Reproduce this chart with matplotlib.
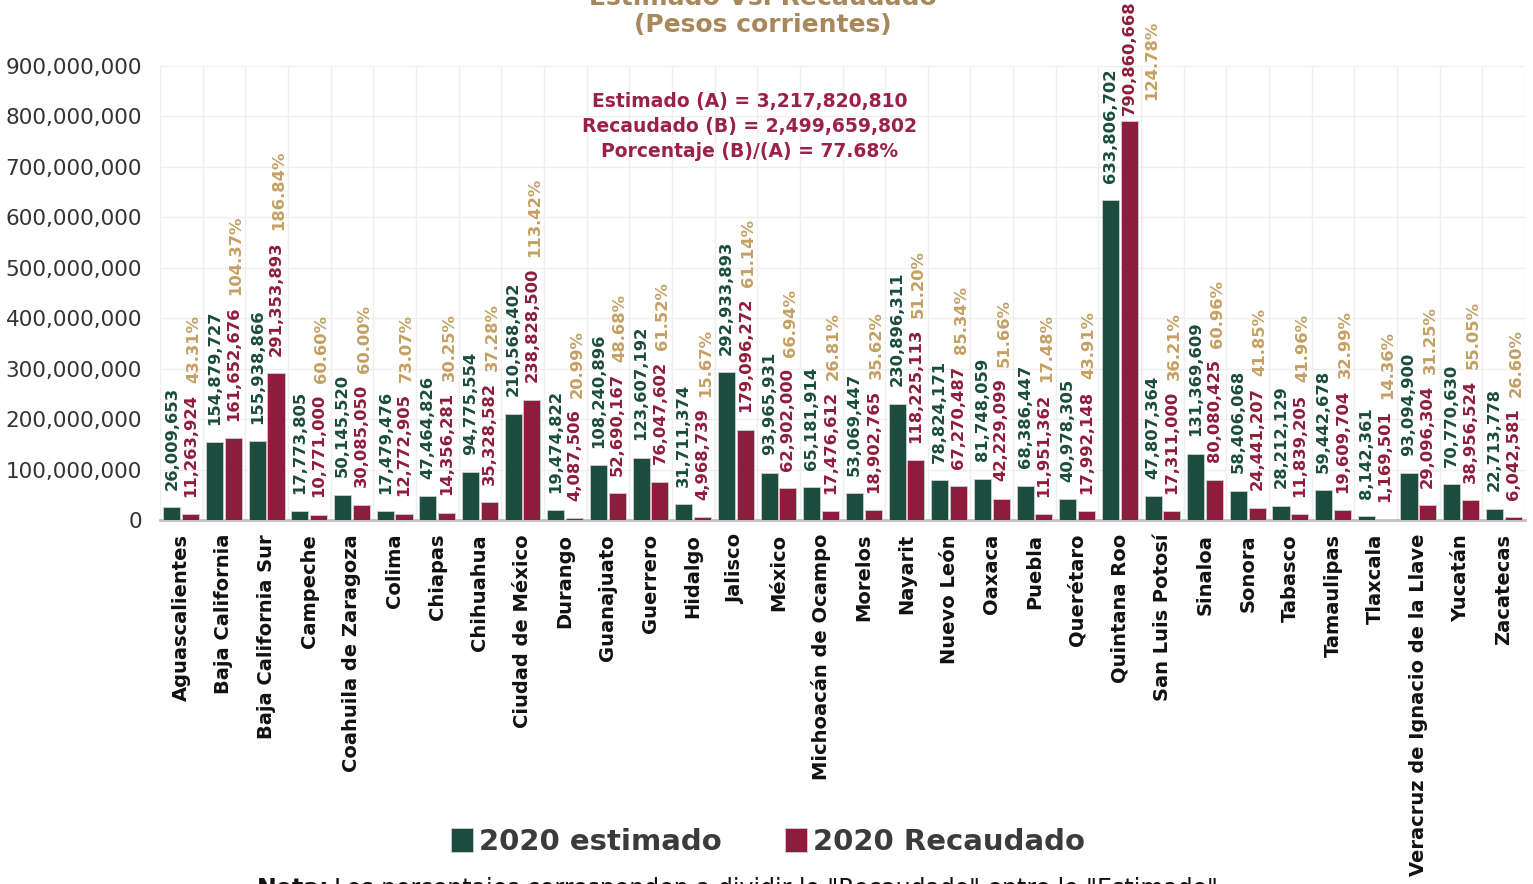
import numpy as np
import matplotlib
matplotlib.use("Agg")
import matplotlib.pyplot as plt
from matplotlib.ticker import FuncFormatter, FixedLocator

# Data
estados = ["Aguascalientes", "Baja California", "Baja California Sur", "Campeche",
           "Coahuila de Zaragoza", "Colima", "Chiapas", "Chihuahua", "Ciudad de México",
           "Durango", "Guanajuato", "Guerrero", "Hidalgo", "Jalisco", "México",
           "Michoacán de Ocampo", "Morelos", "Nayarit", "Nuevo León", "Oaxaca", "Puebla",
           "Querétaro", "Quintana Roo", "San Luis Potosí", "Sinaloa", "Sonora", "Tabasco",
           "Tamaulipas", "Tlaxcala", "Veracruz de Ignacio de la Llave", "Yucatán", "Zacatecas"]
estimado = [26009653, 154879727, 155938866, 17773805, 50145520, 17479476, 47464826,
            94775554, 210568402, 19474822, 108240896, 123607192, 31711374, 292933893,
            93965931, 65181914, 53069447, 230896311, 78824171, 81748059, 68386447,
            40978305, 633806702, 47807364, 131369609, 58406068, 28212129, 59442678,
            8142361, 93094900, 70770630, 22713778]
recaudado = [11263924, 161652676, 291353893, 10771000, 30085050, 12772905, 14356281,
             35328582, 238828500, 4087506, 52690167, 76047602, 4968739, 179096272,
             62902000, 17476612, 18902765, 118225113, 67270487, 42229099, 11951362,
             17992148, 790860668, 17311000, 80080425, 24441207, 11839205, 19609704,
             1169501, 29096304, 38956524, 6042581]
porcentaje = ["43.31%", "104.37%", "186.84%", "60.60%", "60.00%", "73.07%", "30.25%",
              "37.28%", "113.42%", "20.99%", "48.68%", "61.52%", "15.67%", "61.14%",
              "66.94%", "26.81%", "35.62%", "51.20%", "85.34%", "51.66%", "17.48%",
              "43.91%", "124.78%", "36.21%", "60.96%", "41.85%", "41.96%", "32.99%",
              "14.36%", "31.25%", "55.05%", "26.60%"]
total_a = "3,217,820,810"
total_b = "2,499,659,802"
total_pct = "77.68%"

GREEN = "#1c4c3d"
RED = "#8f1c3d"
GOLD = "#c4a063"
TITLE = "#a8885a"
SUMRED = "#9c2148"

plt.rcParams["font.family"] = ["DejaVu Sans"]

fig = plt.figure(figsize=(15.33, 8.84), dpi=100)
ax = fig.add_axes([160 / 1533, 1 - 520 / 884, 1365 / 1533, 454 / 884])

x = np.arange(len(estados))
w = 0.4
off = 0.22
b1 = ax.bar(x - off, estimado, w, color=GREEN, edgecolor="#c8c8c8", linewidth=0.7,
            label="2020 estimado", zorder=3)
b2 = ax.bar(x + off, recaudado, w, color=RED, edgecolor="#c8c8c8", linewidth=0.7,
            label="2020 Recaudado", zorder=3)

for i in range(len(estados)):
    ax.annotate(f"{estimado[i]:,}", (x[i] - off, estimado[i]), xytext=(0, 12.5),
                textcoords="offset points", rotation=90, ha="center", va="bottom",
                color=GREEN, fontsize=11.8, fontweight="bold")
    dy = 4 if i == 22 else 12.5
    rt = ax.annotate(f"{recaudado[i]:,}", (x[i] + off, recaudado[i]), xytext=(0, dy),
                     textcoords="offset points", rotation=90, ha="center", va="bottom",
                     color=RED, fontsize=11.8, fontweight="bold")
    if i == 22:
        ax.annotate(porcentaje[i], (x[i] + off, recaudado[i]), xytext=(16.5, 15),
                    textcoords="offset points", rotation=90, ha="center", va="bottom",
                    color=GOLD, fontsize=11.8, fontweight="bold", annotation_clip=False)
    else:
        ax.annotate(porcentaje[i], (0.5, 1), xycoords=rt, xytext=(2, 8),
                    textcoords="offset points", rotation=90, ha="center", va="bottom",
                    color=GOLD, fontsize=11.8, fontweight="bold")

ax.set_xlim(-0.5, len(estados) - 0.5)
ax.set_ylim(0, 900000000)
ax.set_yticks(np.arange(0, 900000001, 100000000))
ax.yaxis.set_major_formatter(FuncFormatter(lambda v, p: f"{v:,.0f}"))
ax.set_xticks(x)
ax.set_xticklabels(estados, rotation=90, fontsize=14, fontweight="bold", color="#111111")
ax.xaxis.set_minor_locator(FixedLocator(np.arange(-0.5, len(estados), 1)))
ax.tick_params(axis="y", length=0, pad=13, labelsize=15.5, labelcolor="#333333")
ax.tick_params(axis="x", which="both", length=0, pad=10)
ax.grid(axis="y", color="#efefef", linewidth=1)
ax.grid(axis="x", which="minor", color="#efefef", linewidth=1)
ax.grid(axis="x", which="major", visible=False)
ax.set_axisbelow(True)
for s in ["top", "right", "left"]:
    ax.spines[s].set_visible(False)
ax.spines["bottom"].set_color("#c0c0c0")
ax.spines["bottom"].set_linewidth(2)

# Title (top line is cut off by the frame)
fig.text(763 / 1533, 1 - 5 / 884, "Estimado Vs. Recaudado", ha="center", va="baseline",
         color=TITLE, fontsize=18, fontweight="bold")
fig.text(763 / 1533, 1 - 25 / 884, "(Pesos corrientes)", ha="center", va="center",
         color=TITLE, fontsize=18, fontweight="bold")

fig.text(750 / 1533, 1 - 127 / 884,
         f"Estimado (A) = {total_a}\nRecaudado (B) = {total_b}\nPorcentaje (B)/(A) = {total_pct}",
         ha="center", va="center", color=SUMRED, fontsize=13.5, fontweight="bold",
         linespacing=1.4)

leg = fig.legend(handles=[b1, b2], loc="center", bbox_to_anchor=(768 / 1533, 1 - 842 / 884),
                 ncol=2, frameon=False, handlelength=0.75, handleheight=0.9,
                 handletextpad=0.2, columnspacing=2.2,
                 prop={"size": 21, "weight": "bold"})
for t in leg.get_texts():
    t.set_color("#3b3b3b")

fig.text(329 / 1533, 1 - 877 / 884, "Nota:", ha="right", va="top", fontsize=17,
         fontweight="bold", color="#111111")
fig.text(334 / 1533, 1 - 877 / 884,
         'Los porcentajes corresponden a dividir lo "Recaudado" entre lo "Estimado"',
         ha="left", va="top", fontsize=17, color="#111111")

fig.savefig("out.png", dpi=100)
